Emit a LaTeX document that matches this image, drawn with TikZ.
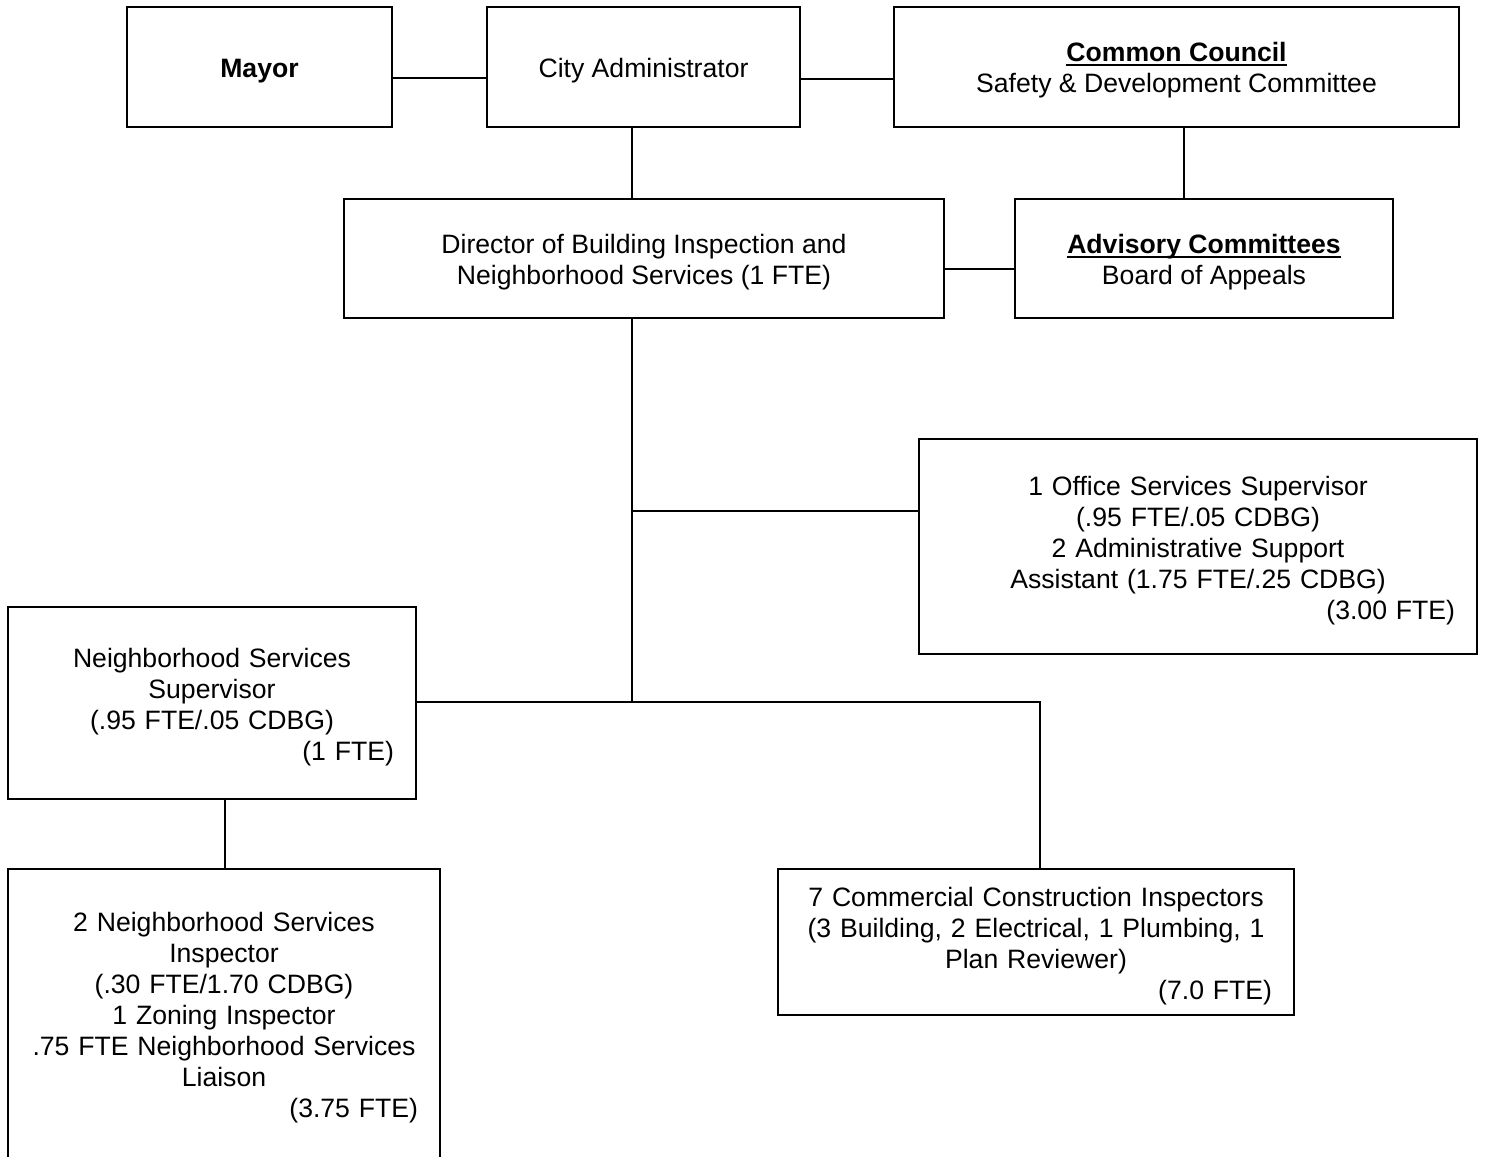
\documentclass[tikz,border=0pt]{standalone}
\usepackage{fontspec}
\setmainfont{Liberation Sans}
% underline drawn close to the baseline, crossing descenders
\newcommand{\ulbox}[1]{\setbox0\hbox{#1}\rlap{\rule[-2pt]{\wd0}{0.9pt}}\box0}
\begin{document}
\begin{tikzpicture}[x=0.5pt,y=-0.5pt,
  box/.style={draw=black,line width=1pt,rectangle,inner sep=0pt},
  txt/.style={inner sep=0pt,align=center,font=\fontsize{13.3}{15.5}\selectfont},
  link/.style={draw=black,line width=1pt}]
\useasboundingbox (0,0) rectangle (1486,1156);

% frames
\node[box,minimum width=132.5pt,minimum height=60pt] (mayor) at (259.5,67) {};
\node[box,minimum width=156.5pt,minimum height=60pt] (admin) at (643.5,67) {};
\node[box,minimum width=282.5pt,minimum height=60pt] (council) at (1176.5,67) {};
\node[box,minimum width=300pt,minimum height=59.5pt] (director) at (644,258.5) {};
\node[box,minimum width=189pt,minimum height=59.5pt] (advisory) at (1204,258.5) {};
\node[box,minimum width=279pt,minimum height=107.5pt] (office) at (1198,546.5) {};
\node[box,minimum width=204pt,minimum height=96pt] (nssup) at (212,703) {};
\node[box,minimum width=216pt,minimum height=145.5pt] (nsinsp) at (224,1014.5) {};
\node[box,minimum width=258pt,minimum height=73pt] (commercial) at (1036,942) {};

% texts
\node[txt] (mayorT) at ([yshift=-1.9pt]mayor.center) {\textbf{Mayor}};
\node[txt] (adminT) at ([yshift=-1.6pt]admin.center) {City Administrator};
\node[txt] (councilT) at ([yshift=-1.6pt]council.center)
  {\ulbox{\textbf{Common Council}}\\Safety \& Development Committee};
\node[txt] (directorT) at ([yshift=-1.9pt]director.center)
  {Director of Building Inspection and\\Neighborhood Services (1 FTE)};
\node[txt] (advisoryT) at ([yshift=-1.9pt]advisory.center)
  {\ulbox{\textbf{Advisory Committees}}\\Board of Appeals};
\node[txt,text width=257pt] (officeT) at ([yshift=-1.9pt]office.center)
  {1 Office Services Supervisor\\(.95 FTE/.05 CDBG)\\2 Administrative Support\\Assistant (1.75 FTE/.25 CDBG)\\\noindent\hfill(3.00 FTE)};
\node[txt,text width=182pt] (nssupT) at ([yshift=-1.9pt]nssup.center)
  {Neighborhood Services\\Supervisor\\(.95 FTE/.05 CDBG)\\\noindent\hfill(1 FTE)};
\node[txt,text width=194pt] (nsinspT) at ([yshift=-1.6pt]nsinsp.center)
  {2 Neighborhood Services\\Inspector\\(.30 FTE/1.70 CDBG)\\1 Zoning Inspector\\.75 FTE Neighborhood Services\\Liaison\\\noindent\hfill(3.75 FTE)};
\node[txt,text width=236pt] (commercialT) at ([yshift=-1.9pt]commercial.center)
  {7 Commercial Construction Inspectors\\(3 Building, 2 Electrical, 1 Plumbing, 1\\Plan Reviewer)\\\noindent\hfill(7.0 FTE)};

% routing points
\coordinate (r1) at (0,78);
\coordinate (r2) at (0,79);
\coordinate (r3) at (0,269);
\coordinate (c1) at (632,0);
\coordinate (c2) at (1184,0);
\coordinate (branch) at (632,511);
\coordinate (hub) at (632,702);
\coordinate (c3) at (1040,0);
\coordinate (c4) at (225,0);

% connectors
\draw[link] (mayor.east |- r1) -- (admin.west |- r1);
\draw[link] (admin.east |- r2) -- (council.west |- r2);
\draw[link] (admin.south -| c1) -- (director.north -| c1);
\draw[link] (council.south -| c2) -- (advisory.north -| c2);
\draw[link] (director.east |- r3) -- (advisory.west |- r3);
\draw[link] (director.south -| hub) -- (hub);
\draw[link] (branch) -- (office.west |- branch);
\draw[link] (nssup.east |- hub) -| (commercial.north -| c3);
\draw[link] (nssup.south -| c4) -- (nsinsp.north -| c4);
\end{tikzpicture}
\end{document}
